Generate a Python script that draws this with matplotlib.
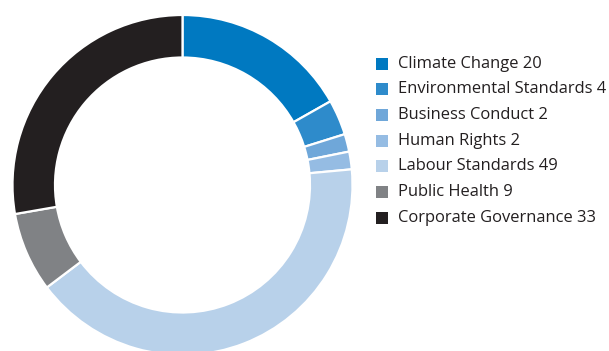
import matplotlib.pyplot as plt
from matplotlib.patches import Rectangle

categories = ['Climate Change', 'Environmental Standards', 'Business Conduct',
              'Human Rights', 'Labour Standards', 'Public Health',
              'Corporate Governance']
counts = [20, 4, 2, 2, 49, 9, 33]
colours = ['#0079c1', '#2e8bcb', '#6fa7d9', '#95bce3', '#b8d1ea',
           '#808285', '#231f20']

W, H = 609, 351
fig = plt.figure(figsize=(W / 100, H / 100), dpi=100)

# ring centred at (182, 185) px from the top-left, outer radius 170 px
cx, cy, r = 182.5, 185, 170
ax = fig.add_axes([(cx - r) / W, (H - cy - r) / H, 2 * r / W, 2 * r / H])
ax.pie(counts, colors=colours, startangle=90, counterclock=False, radius=1,
       wedgeprops=dict(width=0.25, edgecolor='white', linewidth=1.6))
ax.set_xlim(-1, 1)
ax.set_ylim(-1, 1)
ax.set_aspect('auto')
ax.axis('off')

# legend: coloured squares with label + count
y0, dy = 63.5, 25.7
for i, (name, n, c) in enumerate(zip(categories, counts, colours)):
    y = y0 + i * dy
    fig.patches.append(Rectangle(((376) / W, (H - y - 6) / H), 12 / W, 12 / H,
                                 transform=fig.transFigure, facecolor=c,
                                 edgecolor='none'))
    fig.text(398 / W, (H - y) / H, f'{name} {n}', fontsize=11.9,
             family='Open Sans', color='#231f20', va='center', ha='left')

fig.savefig('out.png', dpi=100)
